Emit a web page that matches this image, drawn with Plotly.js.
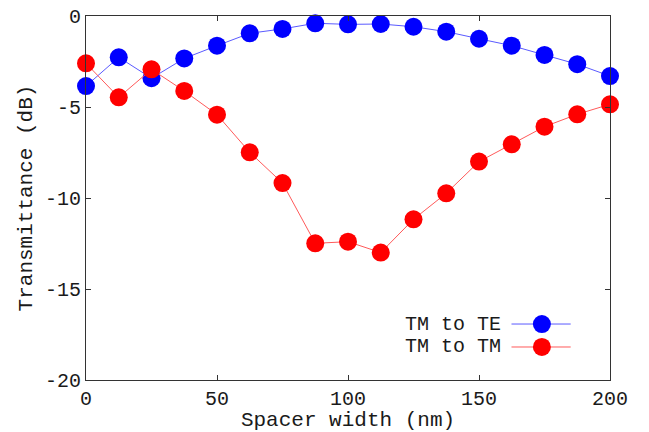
<!DOCTYPE html>
<html>
<head>
<meta charset="utf-8">
<script src="https://cdn.plot.ly/plotly-3.0.1.min.js"></script>
<style>html,body{margin:0;padding:0;background:#fff;}#chart{width:649px;height:432px;}</style>
</head>
<body>
<div id="chart"></div>
<script>
const spacerWidth = [0, 12.5, 25, 37.5, 50, 62.5, 75, 87.5, 100, 112.5, 125, 137.5, 150, 162.5, 175, 187.5, 200];
const tmToTE = [-3.85, -2.27, -3.42, -2.33, -1.63, -0.95, -0.71, -0.40, -0.46, -0.44, -0.59, -0.86, -1.25, -1.63, -2.14, -2.65, -3.30];
const tmToTM = [-2.60, -4.47, -2.93, -4.12, -5.42, -7.49, -9.18, -12.49, -12.40, -13.00, -11.17, -9.74, -8.00, -7.05, -6.08, -5.40, -4.85];
const seriesNames = ['TM to TE', 'TM to TM'];
const xTicks = [0, 50, 100, 150, 200];
const yTicks = [0, -5, -10, -15, -20];

const FONT = 'Liberation Mono, Courier New, monospace';
const TXT = '#1a1a1a';
const blue = '#0000ff', red = '#ff0000';

const traces = [
  {x: spacerWidth, y: tmToTE, name: seriesNames[0], mode: 'lines+markers', cliponaxis: false,
   line: {color: '#5a5aff', width: 1}, marker: {color: blue, size: 18}},
  {x: spacerWidth, y: tmToTM, name: seriesNames[1], mode: 'lines+markers', cliponaxis: false,
   line: {color: '#ff5a5a', width: 1}, marker: {color: red, size: 18}}
];

const axisCommon = {
  showline: true, mirror: 'ticks', linecolor: '#333', linewidth: 1,
  ticks: 'inside', ticklen: 5, tickcolor: '#333', showgrid: false, zeroline: false,
  tickfont: {family: FONT, size: 20, color: TXT}
};

// custom legend (text left, sample right) via annotations + shapes
const legY = [0.1538, 0.0907];
const legColors = [blue, red];
const legLineColors = ['#5a5aff', '#ff5a5a'];
const annotations = seriesNames.map((n, i) => ({
  xref: 'paper', yref: 'paper', x: 0.793, y: legY[i], xanchor: 'right', yanchor: 'middle',
  text: n, showarrow: false, font: {family: FONT, size: 20, color: TXT}, borderpad: 0
}));
const shapes = [];
seriesNames.forEach((n, i) => {
  shapes.push({type: 'line', xref: 'paper', yref: 'paper', x0: 0.812, x1: 0.925, y0: legY[i], y1: legY[i],
    line: {color: legLineColors[i], width: 1}});
  shapes.push({type: 'circle', xref: 'paper', yref: 'paper', xsizemode: 'pixel', ysizemode: 'pixel',
    xanchor: 0.870, yanchor: legY[i], x0: -9, x1: 9, y0: -9, y1: 9,
    fillcolor: legColors[i], line: {width: 0}});
});

const layout = {
  width: 649, height: 432,
  margin: {l: 86, r: 39, t: 16, b: 52},
  paper_bgcolor: '#fff', plot_bgcolor: '#fff',
  showlegend: false,
  font: {family: FONT, color: TXT},
  xaxis: Object.assign({}, axisCommon, {
    range: [0, 200], tickvals: xTicks, ticktext: xTicks.map(String),
    title: {text: 'Spacer width (nm)', font: {family: FONT, size: 21, color: TXT}, standoff: 2}
  }),
  yaxis: Object.assign({}, axisCommon, {
    range: [-20, 0], tickvals: yTicks, ticktext: yTicks.map(String),
    title: {text: 'Transmittance (dB)', font: {family: FONT, size: 21, color: TXT}, standoff: 6}
  }),
  annotations: annotations,
  shapes: shapes
};

Plotly.newPlot('chart', traces, layout, {displayModeBar: false, staticPlot: true});
</script>
</body>
</html>
